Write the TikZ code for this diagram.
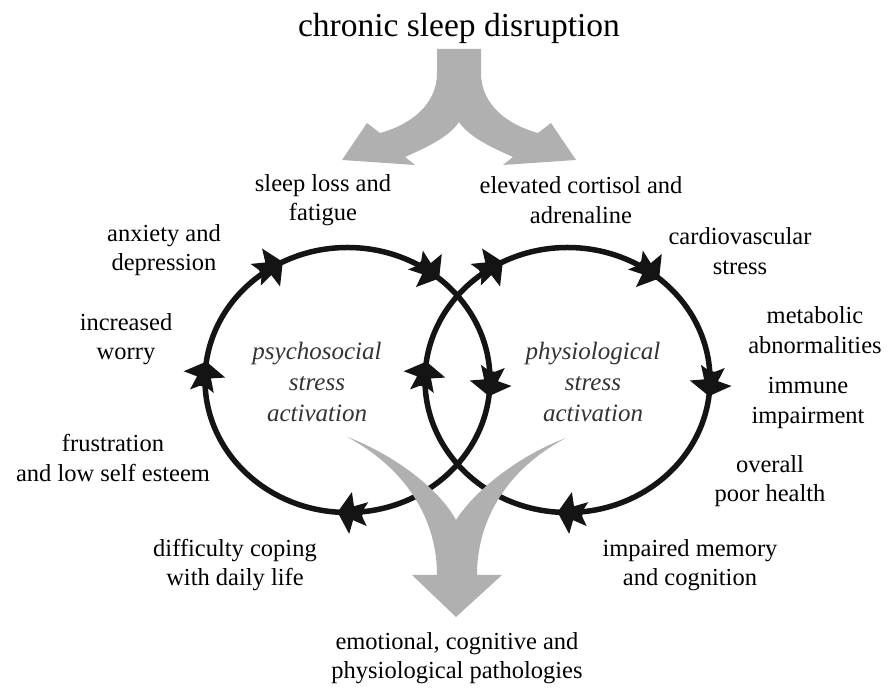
\documentclass[tikz,border=0pt]{standalone}
\usepackage{fontspec}
\setmainfont{Liberation Serif}
\begin{document}
\begin{tikzpicture}[x=1pt,y=1pt,
  lbl/.style={align=center, font=\fontsize{24.5}{29.5}\selectfont, inner sep=0pt},
  ital/.style={align=center, font=\fontsize{25}{31}\selectfont\itshape, text=black!80, inner sep=0pt},
  loopline/.style={line width=5.5pt, draw=black!92},
  graybig/.style={fill=black!31},
  barb/.pic={\fill[black!92] (0,0) -- (-13,21) -- (-16,7) -- (-30,12) -- (-25,3) -- (-25,-3) -- (-30,-12) -- (-16,-7) -- (-13,-21) -- cycle;}
]
\useasboundingbox (0,0) rectangle (888,692);

% loops
\draw[loopline] (347.5,312) ellipse [x radius=142.5, y radius=132.5];
\draw[loopline] (567.5,312) ellipse [x radius=142.5, y radius=132.5];
\foreach \cx in {347.5,567.5}{
  \foreach \t in {117,50,-7,-94,172}{
    \pgfmathsetmacro\ang{atan2(-132.5*cos(\t),142.5*sin(\t))}
    \pic[rotate=\ang] at ({\cx+142.5*cos(\t)},{312+132.5*sin(\t)}) {barb};
  }
}

% top splitting arrow
\fill[graybig] (437,643) -- (437,619) .. controls (437,587) and (410,567) .. (380,559)
  -- (367,569) -- (342,532) -- (415,527) -- (405,535)
  .. controls (425,544) and (448,554) .. (459,570)
  .. controls (470,554) and (493,544) .. (513,535)
  -- (503,527) -- (576,532) -- (551,569) -- (538,559)
  .. controls (508,567) and (481,587) .. (481,619) -- (481,643) -- cycle;

% bottom merging arrow
\fill[graybig] (346.7,255.3) .. controls (407,223) and (437,172) .. (437,117)
  -- (412,117) -- (456,75) -- (502,117) -- (477,117)
  .. controls (477,172) and (507,223) .. (566,254)
  .. controls (520,237) and (475,202) .. (456,172)
  .. controls (440,202) and (395,237) .. (346.7,255.3) -- cycle;

% texts
\node[lbl, font=\fontsize{33.5}{40}\selectfont, anchor=base] (title) at (459,655) {chronic sleep disruption};
\node[lbl] (sleep) at (323,492) {sleep loss and\\fatigue};
\node[lbl] (cort) at (581,492) {elevated cortisol and\\adrenaline};
\node[lbl] (anx) at (164,442) {anxiety and\\depression};
\node[lbl] (worry) at (126,353) {increased\\worry};
\node[lbl] (frus) at (113,234) {frustration\\and low self esteem};
\node[lbl] (cope) at (235,127) {difficulty coping\\with daily life};
\node[lbl] (cardio) at (740,441) {cardiovascular\\stress};
\node[lbl] (meta) at (815,362) {metabolic\\abnormalities};
\node[lbl] (immune) at (808,289) {immune\\impairment};
\node[lbl] (health) at (770,211) {overall\\poor health};
\node[lbl] (memory) at (690,127) {impaired memory\\and cognition};
\node[lbl] (patho) at (457,34) {emotional, cognitive and\\physiological pathologies};
\node[ital] (psycho) at (317,310) {psychosocial\\stress\\activation};
\node[ital] (physio) at (593,310) {physiological\\stress\\activation};
\end{tikzpicture}
\end{document}
